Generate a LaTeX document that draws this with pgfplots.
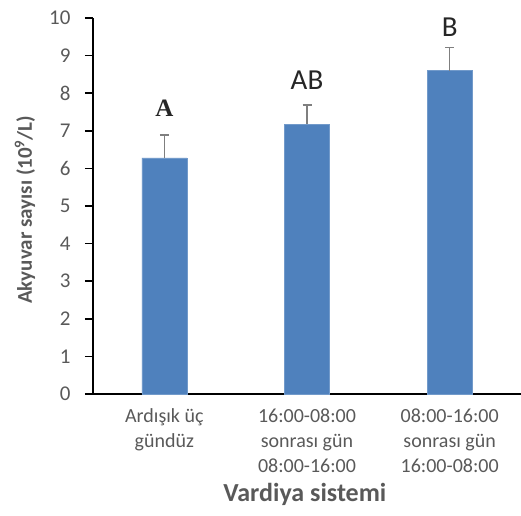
\documentclass[border=0pt]{standalone}
\usepackage{pgfplots}
\pgfplotsset{compat=1.18}
\usepackage{fontspec}
\setmainfont{Carlito}
\newfontfamily\serifA{Liberation Serif}
\definecolor{barblue}{HTML}{4F81BD}
\definecolor{txtgray}{HTML}{595959}
\definecolor{errgray}{HTML}{7F7F7F}
\begin{document}
\begin{tikzpicture}
\useasboundingbox (-93pt,-121pt) rectangle (428pt,394pt);
\begin{axis}[
  at={(0,0)}, anchor=south west,
  scale only axis, width=428pt, height=376pt,
  xmin=-0.5, xmax=2.5, ymin=0, ymax=10,
  axis x line=bottom, axis y line=left,
  axis line style={-, black, line width=1.6pt},
  ytick={0,1,...,10},
  xtick={0,1,2},
  xticklabels={{Ardışık üç\\gündüz},{16:00-08:00\\sonrası gün\\08:00-16:00},{08:00-16:00\\sonrası gün\\16:00-08:00}},
  x tick label style={align=center, font=\fontsize{20}{25}\selectfont, text=txtgray, yshift=-3pt},
  major x tick style={draw=none},
  extra x ticks={-0.5,0.5,1.5,2.5},
  extra x tick labels={},
  extra x tick style={major tick length=8pt, tick style={black, line width=1.6pt}},
  yticklabel style={font=\fontsize{21}{24}\selectfont, text=txtgray},
  yticklabel={\pgfmathprintnumber{\tick}\hspace*{11pt}},
  tick align=outside, major tick length=8pt,
  tick style={black, line width=1.6pt},
  /pgf/number format/assume math mode=true,
  every axis y label/.style={at={(axis description cs:-0.159,0.49)}, rotate=90, anchor=center},
  every axis x label/.style={at={(axis description cs:0.495,-0.266)}, anchor=center},
  ylabel={\fontsize{21}{24}\selectfont\bfseries\color{txtgray}Akyuvar sayısı (10\textsuperscript{9}/L)},
  xlabel={\fontsize{26}{28}\selectfont\bfseries\color{txtgray}Vardiya sistemi},
  clip=false,
]
\addplot[ybar, bar width=45pt, fill=barblue, draw=barblue!80!white,
  error bars/.cd, y dir=plus, y explicit,
  error bar style={errgray, line width=1.5pt},
  error mark options={rotate=90, mark size=4.5pt, errgray, line width=1.5pt}]
coordinates {(0,6.28) +- (0,0.61) (1,7.18) +- (0,0.51) (2,8.60) +- (0,0.61)};
\node[font=\serifA\bfseries\fontsize{25}{27}\selectfont, text=black!85] at (axis cs:0,7.6) {A};
\node[font=\fontsize{29}{31}\selectfont, text=black!85] at (axis cs:1,8.35) {AB};
\node[font=\fontsize{29}{31}\selectfont, text=black!85] at (axis cs:2,9.76) {B};
\end{axis}
\end{tikzpicture}
\end{document}
